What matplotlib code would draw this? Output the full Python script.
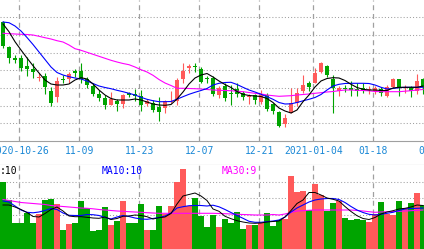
import numpy as np
import matplotlib
matplotlib.use('Agg')
import matplotlib.pyplot as plt


# daily K line, one entry per trading day (2020-10-21 .. 2021-01-28)
opens = [119.3, 94.3, 83.3, 82.7, 75.3, 72, 63.3, 65, 50, 44.3,
         62.3, 62, 69.7, 70, 62, 55, 47, 43.3, 36.3, 40,
         36.7, 47.7, 46.7, 45, 36.7, 38, 33.7, 32.7, 39, 40.3,
         61.7, 73.3, 75.3, 71.7, 63, 62.7, 46, 55, 48.3, 51.7,
         47.7, 44.3, 46.3, 39, 46, 36.7, 29.3, 17.3, 28.5, 37.7,
         50, 57.7, 58.3, 69.3, 75, 62.3, 50.3, 52.7, 52.7, 52.3,
         53, 51, 50.3, 51.7, 45, 53.7, 62, 52.7, 52.7, 50.3, 62]
closes = [95.3, 83.3, 81.3, 73.3, 72, 69.3, 64.3, 54.3, 38.3, 60,
          61, 67, 68.3, 62.3, 56.3, 47.3, 43.3, 36, 42.3, 37.3,
          45.7, 46.3, 45, 36, 40, 31, 29.3, 39.7, 40, 61,
          70, 74.7, 74, 59.3, 61.7, 46.7, 53, 43.3, 47, 46.7,
          43.7, 45.3, 41.3, 46, 32.3, 30, 15.3, 23.3, 37.7, 47.7,
          56, 54.3, 67.7, 77.7, 66, 53.3, 52.7, 51.7, 51, 50.3,
          49.7, 52.3, 53.3, 47.7, 54.3, 62, 53.7, 53.7, 50, 60, 53.7]
highs = [120, 95, 86, 86, 83.7, 77.7, 68.3, 67.7, 53.7, 63.7,
         66, 69.3, 72, 78.3, 64.3, 57.7, 51, 46, 48.7, 42.3,
         46.7, 48.7, 51.7, 51, 42.3, 41, 43.7, 41, 50.3, 62.7,
         78.3, 77, 77.7, 74.3, 65.3, 65, 55, 57.7, 56, 58.3,
         50.3, 47, 47, 51, 47.7, 38.3, 30.5, 26.7, 52.7, 52.7,
         66, 60, 72.7, 78.7, 76, 66, 55, 56, 60, 57.7,
         57.7, 55, 55, 53.7, 55.7, 63.3, 62, 56, 55, 67, 63]
lows = [93.3, 77.7, 78.3, 70.3, 65, 63.3, 60, 47, 35, 39.3,
        57.7, 57.7, 64.3, 57.7, 52.7, 45, 40, 32.3, 35.7, 30.3,
        32.7, 43.7, 40, 30, 35, 29, 20.3, 28.3, 37.7, 35.7,
        57.7, 67.7, 68.7, 57.7, 57.7, 45.3, 42.7, 40, 36, 44.3,
        41, 36.7, 37, 37, 30, 27, 14.3, 13.7, 27.7, 35,
        48.3, 50.3, 57.7, 67.7, 63.7, 27.7, 45.3, 48.7, 45.3, 45.3,
        47.7, 46.7, 47, 45, 44.3, 52.7, 45.3, 47.7, 43.7, 47, 47]

ma5 = [117, 109.3, 99.3, 91, 83, 75.3, 68, 61, 57, 56,
       56, 57, 61, 63.3, 62, 57, 51, 46, 42.5, 41,
       41, 41, 42, 41, 39, 37, 36, 35.7, 36.5, 42,
       49, 57, 63, 66, 67.5, 64, 60, 56.5, 53.5, 49.5,
       46.7, 45.5, 45, 44.5, 42.5, 38.5, 33, 30, 28, 31,
       39.3, 46, 54, 60, 62.5, 63.3, 63, 60.5, 56.7, 53.5,
       51.7, 51, 51, 50.5, 50.5, 53, 53.7, 53.7, 53.7, 53.7, 55]
ma10 = [119, 118.3, 115, 110, 103.5, 96.5, 89, 81.5, 74, 68.5,
        66, 64.3, 63, 62, 60, 57.5, 55, 53.5, 52.3, 50.7,
        49.3, 47.7, 46, 43.7, 41.7, 40.3, 39.3, 39.3, 39.5, 41.8,
        44.3, 46.7, 48.7, 50.5, 52.5, 56, 57.7, 58.5, 58.7, 56.5,
        53.7, 51, 49, 46.7, 44.3, 41.7, 38.5, 37, 37.2, 38.5,
        40.2, 41.7, 43.5, 46.5, 51, 55, 56.7, 57.5, 57.7, 57.7,
        57.7, 57.5, 56, 53.7, 52, 52.5, 53.3, 53.7, 53.7, 53.7, 53.7]
ma30 = [107.7, 107.3, 107, 106.7, 106.5, 106, 104.7, 103.3, 102, 100.3,
        99, 96, 92.3, 90.7, 88.7, 86.7, 84.7, 82.7, 80.7, 79,
        77.5, 76.3, 74, 71.3, 69, 65.7, 61.5, 58, 55.5, 52.7,
        52.7, 52.5, 52.3, 52, 51.5, 51, 50.7, 50.5, 50.3, 49.8,
        49.3, 48.5, 47.7, 47, 46, 45.3, 44.7, 45, 45.3, 46,
        46.5, 47, 47.7, 48.3, 49, 49.5, 50.3, 51, 51, 50.7,
        50.5, 50.2, 49.5, 49.3, 49.3, 49.3, 49.3, 49.8, 50.3, 51, 51.5]

volume = [67.3, 49.5, 26.3, 26.3, 35.7, 26.3, 35, 49, 50.3, 45,
          19, 25, 26.3, 48, 40.7, 18, 19, 42.3, 24, 28,
          48, 26.3, 26.3, 45, 19, 19, 43, 34.7, 43, 67.3,
          80, 43, 51.3, 33.3, 22, 34, 22.3, 29.7, 26.3, 36.7,
          20, 24, 24, 26.3, 35.7, 23, 29, 29.7, 73, 57.3,
          58, 39, 65, 54, 38, 46.3, 48, 31.3, 29, 30,
          29, 27.3, 34.7, 46.7, 34.7, 34, 48, 40.7, 46.3, 56.3, 44]
vol_ma5 = [44, 44, 42, 39.5, 36.5, 32.5, 32, 35.5, 39.5, 42,
           38, 33, 32.3, 32.3, 31.7, 31, 30.7, 32, 29.5, 30.5,
           32.7, 33, 34, 33.5, 32.3, 30, 31.3, 32, 35.5, 45,
           53, 54.5, 56, 53, 48.5, 40, 37.7, 32.7, 30.3, 28.3,
           27, 26, 25.7, 26, 27, 27.5, 28, 32, 38.5, 45.5,
           49, 56.5, 56.5, 54, 51, 49.7, 48, 42.5, 37.5, 33.3,
           30.5, 29.5, 31.5, 35, 37, 38.3, 40, 40.7, 42, 44, 43.5]
vol_ma10 = [48, 47, 43, 39, 36.7, 36.2, 37, 38.5, 40.5, 39.5,
            36, 33.7, 33.5, 33.5, 34.5, 34.3, 33.5, 31.5, 30, 32,
            33.5, 32.5, 31, 30, 29.7, 30.5, 31.5, 33, 36, 41,
            42.3, 43.3, 43.5, 43.5, 43, 43.8, 42.2, 39.5, 36.5, 33.5,
            30.7, 27.7, 26.7, 26.7, 27.3, 28, 29, 32, 37, 41,
            44, 47, 49, 50, 50.5, 50.5, 49.5, 46.5, 42.5, 39,
            36.5, 34.7, 34, 34.7, 35.7, 36.7, 38.5, 40, 40.5, 40.7, 41]
vol_ma30 = [49.5, 48.5, 47.5, 46.5, 46, 45.5, 45, 44.5, 43.5, 43,
            42.5, 42, 41.5, 41, 40.7, 40.2, 39.5, 39, 38.5, 38,
            37.7, 37.3, 37, 36.7, 36.3, 36, 35.7, 35.7, 35.7, 35.7,
            35.7, 35.7, 35.7, 35.7, 35.7, 35.7, 35.5, 35.3, 35, 34.7,
            34.5, 34.3, 34, 34, 34, 34.5, 34, 35, 36.5, 38,
            38.3, 38.7, 39, 39, 39, 39, 39, 39, 39, 38.5,
            38, 37.3, 36.7, 37, 37.3, 37.5, 37.7, 38, 38.3, 38.7, 39]

tick_idx = [3, 13, 23, 33, 43, 52, 62, 72]
tick_labels = ['2020-10-26', '11-09', '11-23', '12-07', '12-21',
               '2021-01-04', '01-18', '02-01']
vol_labels = [(':10', 'black'), ('MA10:10', '#0000ff'), ('MA30:9', '#ff00ff')]

UP = '#ff5a5a'
DOWN = '#00a400'
GRID = '#a0a0a0'
W, H = 424, 249

o = np.array(opens)
c = np.array(closes)
x = np.arange(len(o))
colors = [UP if cc >= oo else DOWN for oo, cc in zip(o, c)]
xlim = (-0.5, (W - 3) / 6)
vx = np.array(tick_idx) - 0.28

fig = plt.figure(figsize=(W / 100, H / 100), dpi=100)
ax_p = fig.add_axes([0, (H - 141) / H, 1, 141 / H])
ax_d = fig.add_axes([0, (H - 165) / H, 1, 24 / H])
ax_v = fig.add_axes([0, 0, 1, 84 / H])

for ax in (ax_p, ax_d, ax_v):
    ax.set_xlim(*xlim)
    ax.set_xticks([])
    ax.set_yticks([])
    for s in ax.spines.values():
        s.set_visible(False)

# price panel
ax_p.set_ylim(0, 141)
for lvl in [123.7, 106, 88.3, 70.7, 53, 35.3, 17.7]:
    ax_p.axhline(lvl, color=GRID, lw=0.75, ls=(0, (1, 2)), zorder=0)
for v in vx:
    ax_p.axvline(v, color=GRID, lw=0.9, ls=(0, (4, 3)), zorder=0)

ax_p.vlines(x, lows, highs, colors=colors, lw=0.8, zorder=2)
body = np.maximum(np.abs(c - o), 0.9)
ax_p.bar(x, body, bottom=np.minimum(o, c), width=0.8, color=colors,
         linewidth=0, zorder=3)

ax_p.plot(x, ma30, color='#ff00ff', lw=0.8, zorder=4)
ax_p.plot(x, ma10, color='#0000ff', lw=0.8, zorder=5)
ax_p.plot(x, ma5, color='black', lw=0.8, zorder=6)

# date strip
ax_d.set_ylim(0, 1)
for side in ('top', 'bottom'):
    ax_d.spines[side].set_visible(True)
    ax_d.spines[side].set_color(GRID)
for v, lab in zip(vx, tick_labels):
    ax_d.text(v, 0.6, lab, ha='center', va='center', color='#1a88d6',
              fontsize=7, family='DejaVu Sans Mono', clip_on=True)

# volume panel
ax_v.set_ylim(0, 84)
for lvl in [67.3, 50.7, 34, 17.3]:
    ax_v.axhline(lvl, color=GRID, lw=0.75, ls=(0, (1, 2)), zorder=0)
for v in vx:
    ax_v.axvline(v, color=GRID, lw=0.9, ls=(0, (4, 3)), zorder=0)
ax_v.bar(x, volume, width=0.84, color=colors, linewidth=0, zorder=2)
ax_v.plot(x, vol_ma30, color='#ff00ff', lw=0.8, zorder=3)
ax_v.plot(x, vol_ma10, color='#0000ff', lw=0.8, zorder=4)
ax_v.plot(x, vol_ma5, color='black', lw=0.7, zorder=5)

for (txt, col), px in zip(vol_labels, [0, 102, 222]):
    fig.text(px / W, 1 - 170.5 / H, txt, color=col, fontsize=7,
             family='DejaVu Sans Mono', ha='left', va='center')

fig.savefig('out.png', dpi=100)
